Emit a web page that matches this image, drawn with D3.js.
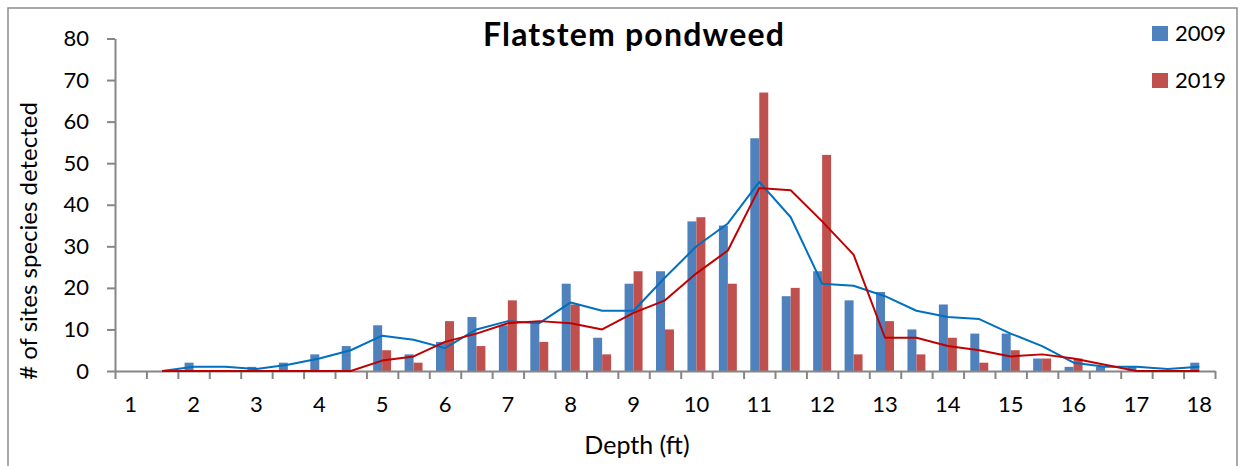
<!DOCTYPE html>
<html>
<head>
<meta charset="utf-8">
<script src="https://cdn.jsdelivr.net/npm/d3@7"></script>
<style>
  html, body { margin: 0; padding: 0; background: #fff; }
  svg { display: block; font-family: Lato, "Open Sans", sans-serif; }
</style>
</head>
<body>
<svg id="chart" width="1241" height="466"></svg>
<script>
// Depth classes in half-foot steps
const depths = [1, 1.5, 2, 2.5, 3, 3.5, 4, 4.5, 5, 5.5, 6, 6.5, 7, 7.5, 8, 8.5, 9, 9.5,
  10, 10.5, 11, 11.5, 12, 12.5, 13, 13.5, 14, 14.5, 15, 15.5, 16, 16.5, 17, 17.5, 18];

// Number of sites where flatstem pondweed was detected, per depth class
const sites2009 = [0, 0, 2, 0, 1, 2, 4, 6, 11, 4, 7, 13, 11, 12, 21, 8, 21, 24,
  36, 35, 56, 18, 24, 17, 19, 10, 16, 9, 9, 3, 1, 1, 1, 0, 2];
const sites2019 = [0, 0, 0, 0, 0, 0, 0, 0, 5, 2, 12, 6, 17, 7, 16, 4, 24, 10,
  37, 21, 67, 20, 52, 4, 12, 4, 8, 2, 5, 3, 3, 0, 0, 0, 0];

// 2-period moving-average trendlines (no value for the first class)
const trend2009 = [null, 0, 1, 1, 0.5, 1.5, 3, 5, 8.5, 7.5, 5.5, 10, 12, 11.5, 16.5, 14.5, 14.5, 22.5,
  30, 35.5, 45.5, 37, 21, 20.5, 18, 14.5, 13, 12.5, 9, 6, 2, 1, 1, 0.5, 1];
const trend2019 = [null, 0, 0, 0, 0, 0, 0, 0, 2.5, 3.5, 7, 9, 11.5, 12, 11.5, 10, 14, 17,
  23.5, 29, 44, 43.5, 36, 28, 8, 8, 6, 5, 3.5, 4, 3, 1.5, 0, 0, 0];

const seriesNames = ["2009", "2019"];
const yTicks = [0, 10, 20, 30, 40, 50, 60, 70, 80];
const xLabelDepths = [1, 2, 3, 4, 5, 6, 7, 8, 9, 10, 11, 12, 13, 14, 15, 16, 17, 18];

const barColors = { "2009": "#4F81BD", "2019": "#C0504D" };
const lineColors = { "2009": "#0070C0", "2019": "#C00000" };
const axisColor = "#868686";

const svg = d3.select("#chart");
const plotLeft = 115, plotRight = 1215, plotTop = 38.5, plotBottom = 371;

// Outer chart frame
svg.append("rect")
  .attr("x", 8).attr("y", 8)
  .attr("width", 1229).attr("height", 470)
  .attr("fill", "#fff")
  .attr("stroke", "#8c8c8c").attr("stroke-width", 1.5);

const x = d3.scaleBand().domain(depths).range([plotLeft, plotRight]).paddingInner(0).paddingOuter(0);
const xSub = d3.scaleBand().domain(seriesNames).range([0, x.bandwidth()])
  .paddingInner(0).paddingOuter(0.75);
const xEdge = d3.scaleLinear().domain([0, depths.length]).range([plotLeft, plotRight]);
const y = d3.scaleLinear().domain([0, 80]).range([plotBottom, plotTop]);

// Bars
const rows = depths.map((d, i) => ({ depth: d, "2009": sites2009[i], "2019": sites2019[i] }));
const groups = svg.append("g").selectAll("g").data(rows).join("g")
  .attr("transform", d => `translate(${x(d.depth)},0)`);
groups.selectAll("rect")
  .data(d => seriesNames.map(s => ({ s, v: d[s] })))
  .join("rect")
  .attr("x", d => xSub(d.s))
  .attr("width", xSub.bandwidth())
  .attr("y", d => y(d.v))
  .attr("height", d => y(0) - y(d.v))
  .attr("fill", d => barColors[d.s]);

// Y axis
const yAxis = svg.append("g")
  .attr("transform", `translate(${plotLeft},0)`)
  .call(d3.axisLeft(y).tickValues(yTicks).tickSize(8).tickSizeOuter(0).tickPadding(18));
yAxis.select(".domain").attr("stroke", axisColor).attr("stroke-width", 2);
yAxis.selectAll(".tick line").attr("stroke", axisColor).attr("stroke-width", 2);
yAxis.selectAll(".tick text").attr("font-size", 22).attr("fill", "#000")
  .attr("font-family", "Lato, sans-serif");

// X axis: tick marks on class boundaries, labels on whole-foot classes
const xTicksAxis = svg.append("g")
  .attr("transform", `translate(0,${plotBottom})`)
  .call(d3.axisBottom(xEdge).tickValues(d3.range(depths.length + 1)).tickSize(8)
    .tickSizeOuter(0).tickFormat(""));
xTicksAxis.select(".domain").attr("stroke", axisColor).attr("stroke-width", 2);
xTicksAxis.selectAll(".tick line").attr("stroke", axisColor).attr("stroke-width", 2);

const xLabels = svg.append("g")
  .attr("transform", `translate(0,${plotBottom})`)
  .call(d3.axisBottom(x).tickValues(xLabelDepths).tickSize(0).tickPadding(25));
xLabels.select(".domain").remove();
xLabels.selectAll(".tick text").attr("font-size", 22).attr("fill", "#000")
  .attr("font-family", "Lato, sans-serif");

// Trendlines
const line = d3.line()
  .defined(d => d.v != null)
  .x(d => x(d.depth) + x.bandwidth() / 2)
  .y(d => y(d.v));
[["2009", trend2009], ["2019", trend2019]].forEach(([s, vals]) => {
  svg.append("path")
    .datum(depths.map((d, i) => ({ depth: d, v: vals[i] })))
    .attr("fill", "none")
    .attr("stroke", lineColors[s])
    .attr("stroke-width", 2)
    .attr("stroke-linejoin", "round")
    .attr("d", line);
});

// Title
svg.append("text")
  .attr("x", 634).attr("y", 46)
  .attr("text-anchor", "middle")
  .attr("font-size", 32).attr("font-weight", "bold")
  .attr("letter-spacing", 1.2)
  .attr("font-family", "Lato, sans-serif")
  .text("Flatstem pondweed");

// Axis titles
svg.append("text")
  .attr("x", 637).attr("y", 454)
  .attr("text-anchor", "middle")
  .attr("font-size", 25)
  .text("Depth (ft)");

svg.append("text")
  .attr("transform", "translate(37,241) rotate(-90)")
  .attr("text-anchor", "middle")
  .attr("font-size", 24)
  .text("# of sites species detected");

// Legend
const legend = svg.append("g");
seriesNames.forEach((s, i) => {
  const ly = 26 + i * 47;
  legend.append("rect")
    .attr("x", 1152).attr("y", ly)
    .attr("width", 16).attr("height", 15)
    .attr("fill", barColors[s]);
  legend.append("text")
    .attr("x", 1175).attr("y", ly + 15)
    .attr("font-size", 22)
    .text(s);
});
</script>
</body>
</html>
